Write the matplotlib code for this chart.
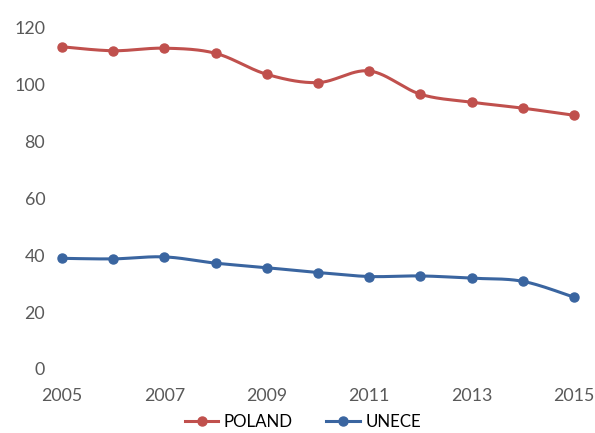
import numpy as np
import matplotlib.pyplot as plt

years = [2005, 2006, 2007, 2008, 2009, 2010, 2011, 2012, 2013, 2014, 2015]
poland = [113.3, 111.9, 112.8, 111.0, 103.6, 100.7, 104.8, 96.6, 93.8, 91.7, 89.2]
unece = [38.9, 38.7, 39.4, 37.2, 35.6, 33.9, 32.5, 32.7, 31.9, 30.8, 25.2]
xticks = [2005, 2007, 2009, 2011, 2013, 2015]
yticks = [0, 20, 40, 60, 80, 100, 120]

red = '#C0504D'
blue = '#3A65A0'


def smooth(xs, ys, n=30):
    # excel-like smoothed line: catmull-rom as cubic bezier
    p = np.column_stack([xs, ys]).astype(float)
    ext = np.vstack([p[0], p, p[-1]])
    out = []
    t = np.linspace(0, 1, n)[:, None]
    for i in range(1, len(ext) - 2):
        p0, p1, p2, p3 = ext[i - 1], ext[i], ext[i + 1], ext[i + 2]
        c1 = p1 + (p2 - p0) / 6
        c2 = p2 - (p3 - p1) / 6
        seg = ((1 - t) ** 3) * p1 + 3 * ((1 - t) ** 2) * t * c1 + 3 * (1 - t) * t ** 2 * c2 + t ** 3 * p2
        out.append(seg if i == 1 else seg[1:])
    out = np.vstack(out)
    return out[:, 0], out[:, 1]


plt.rcParams['font.family'] = ['Lato', 'DejaVu Sans']

fig = plt.figure(figsize=(5.95, 4.33), dpi=100)
ax = fig.add_axes([0.104, 0.148, 0.861, 0.788])

for ys, col, name in [(poland, red, 'POLAND'), (unece, blue, 'UNECE')]:
    sx, sy = smooth(years, ys)
    ax.plot(sx, sy, color=col, lw=2.2, clip_on=False, zorder=2)
    ax.plot(years, ys, 'o', color=col, ms=6.5, clip_on=False, zorder=3)
    # legend proxy
    ax.plot([], [], '-o', color=col, lw=2.2, ms=6.5, label=name)

ax.set_xlim(2005, 2015)
ax.set_ylim(0, 120)
ax.set_xticks(xticks)
ax.set_yticks(yticks)
for s in ax.spines.values():
    s.set_visible(False)
ax.tick_params(length=0, labelsize=12.8, colors='#595959')
ax.tick_params(axis='x', pad=14)
ax.tick_params(axis='y', pad=12)

fig.legend(loc='lower center', ncol=2, frameon=False, bbox_to_anchor=(0.509, -0.028),
           fontsize=12.2, handlelength=2.0, columnspacing=2.0, handletextpad=0.3,
           labelcolor='black')

fig.savefig('out.png', dpi=100)
